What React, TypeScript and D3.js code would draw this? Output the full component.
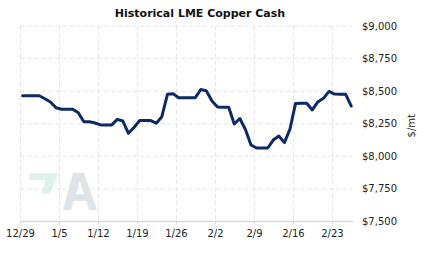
import React from "react";
import * as d3 from "d3";

const title = "Historical LME Copper Cash";
const yUnit = "$/mt";
const startDate = new Date(2014, 11, 29);
// daily cash price, one value per calendar day starting 12/29
const prices = [
  8465, 8465, 8465, 8465, 8442, 8417, 8373, 8361, 8361, 8361,
  8335, 8266, 8266, 8256, 8241, 8241, 8241, 8284, 8271, 8177,
  8221, 8274, 8274, 8274, 8254, 8304, 8476, 8481, 8450, 8450,
  8450, 8450, 8513, 8502, 8425, 8379, 8377, 8377, 8248, 8290,
  8206, 8087, 8064, 8064, 8064, 8125, 8156, 8105, 8210, 8406,
  8407, 8407, 8356, 8417, 8445, 8498, 8478, 8476, 8476, 8386,
];
const yTicks = [7500, 7750, 8000, 8250, 8500, 8750, 9000];
const xTickDates = [
  new Date(2014, 11, 29), new Date(2015, 0, 5), new Date(2015, 0, 12), new Date(2015, 0, 19),
  new Date(2015, 0, 26), new Date(2015, 1, 2), new Date(2015, 1, 9), new Date(2015, 1, 16),
  new Date(2015, 1, 23),
];

const W = 423, H = 257;
const left = 20.5, right = 351.5, top = 26, bottom = 221.5;

export default function App() {
  const x = d3.scaleTime()
    .domain([startDate, new Date(2015, 1, 26, 10)])
    .range([left, right]);
  const y = d3.scaleLinear().domain([7500, 9000]).range([bottom, top]);
  const data = prices.map((v, i) => ({ date: new Date(2014, 11, 29 + i, 9), v }));
  const line = d3.line<{ date: Date; v: number }>()
    .x((d) => x(d.date))
    .y((d) => y(d.v));
  const fmtX = (d: Date) => `${d.getMonth() + 1}/${d.getDate()}`;
  const fmtY = (v: number) => "$" + d3.format(",")(v);
  const grid = "#e4e4e4";
  const font = "'DejaVu Sans', Verdana, sans-serif";

  return (
    <svg width={W} height={H} style={{ position: "absolute", left: 0, top: 0, background: "#fff" }}
      fontFamily={font}>
      {/* watermark */}
      <path d="M30,173.3 L58.5,173.3 L50,193.5 L41.5,193.5 L45.5,180 L29,180 Z" fill="#ddf3e9" />
      <path d="M73,172.7 L84,172.7 L97,210 L89,210 L86.3,201 L73.7,201 L71,210 L63,210 Z M76.2,194 L83.8,194 L80,181 Z"
        fill="#dfe3ea" fillRule="evenodd" />
      {/* horizontal grid */}
      {yTicks.filter((t) => t !== 7500).map((t) => (
        <line key={"h" + t} x1={left} x2={right} y1={y(t)} y2={y(t)} stroke={grid} strokeDasharray="4,3" />
      ))}
      {/* vertical grid */}
      {xTickDates.map((d, i) => (
        <line key={"v" + i} x1={x(d)} x2={x(d)} y1={top} y2={bottom} stroke={grid} strokeDasharray="4,3" />
      ))}
      {/* x axis */}
      <line x1={left} x2={right + 2} y1={bottom} y2={bottom} stroke="#d8d8d8" strokeWidth={1.5} />
      {xTickDates.map((d, i) => (
        <g key={"xt" + i}>
          <line x1={x(d)} x2={x(d)} y1={bottom} y2={bottom + 3} stroke="#d8d8d8" />
          <text x={x(d)} y={bottom + 15} fontSize={10} textAnchor="middle" fill="#222">{fmtX(d)}</text>
        </g>
      ))}
      {/* y labels */}
      {yTicks.map((t) => (
        <text key={"yt" + t} x={362} y={y(t)} dy="0.35em" fontSize={10} fill="#222">{fmtY(t)}</text>
      ))}
      <text transform={`translate(415,${(y(8250) + 2)}) rotate(-90)`} fontSize={10} textAnchor="middle" fill="#222">{yUnit}</text>
      {/* title */}
      <text x={200} y={17} fontSize={11} fontWeight="bold" textAnchor="middle" fill="#111">{title}</text>
      {/* line */}
      <path d={line(data) || ""} fill="none" stroke="#0b2a66" strokeWidth={3} strokeLinejoin="round" strokeLinecap="round" />
    </svg>
  );
}
